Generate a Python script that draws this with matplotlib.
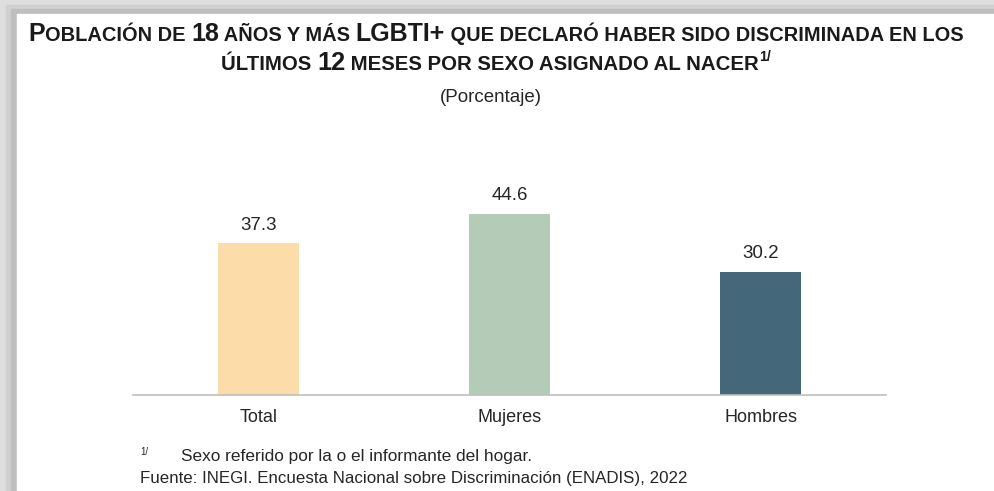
import matplotlib
matplotlib.use("Agg")
import matplotlib.pyplot as plt
from matplotlib.patches import Rectangle
import numpy as np

categories = ["Total", "Mujeres", "Hombres"]
values = [37.3, 44.6, 30.2]
colors = ["#FCDDA9", "#B4CCB7", "#44687A"]

plt.rcParams['font.family'] = ['Liberation Sans', 'DejaVu Sans']

W, H = 994, 491
fig = plt.figure(figsize=(W / 100, H / 100), dpi=100)

# background frame (gray shadow border)
bg = fig.add_axes([0, 0, 1, 1], zorder=-10)
bg.set_xlim(0, W); bg.set_ylim(H, 0); bg.axis("off")
bg.add_patch(Rectangle((0, 0), W, H, color="#DEDEDE"))
bg.add_patch(Rectangle((6, 5), W, H, color="#D0D0D0"))
bg.add_patch(Rectangle((11, 9), W, H, color="#BEBEBE"))
bg.add_patch(Rectangle((17, 14), W, H, color="white"))

ax = fig.add_axes([133 / W, 1 - 395 / H, 753 / W, 244 / H])
x = np.arange(len(categories))
ax.bar(x, values, width=0.32, color=colors)
ax.set_xlim(-0.5, 2.5)
ax.set_ylim(0, 60)
for s in ["top", "right", "left"]:
    ax.spines[s].set_visible(False)
ax.spines["bottom"].set_color("#BFBFBF")
ax.spines["bottom"].set_linewidth(1.2)
ax.set_yticks([])
ax.set_xticks(x)
ax.set_xticklabels(categories, fontsize=13, color="#262626")
ax.tick_params(axis="x", length=0, pad=10)
ax.patch.set_alpha(0)
for xi, v in zip(x, values):
    ax.annotate(f"{v:.1f}", (xi, v), xytext=(0, 7), textcoords="offset points",
                ha="center", va="bottom", fontsize=13.5, color="#262626")

# title with small caps simulation, fitted to target width
renderer = fig.canvas.get_renderer()
BIG, SMALL = 16.0, 12.8

def draw_line(pieces, baseline_y, target_w):
    texts = []
    for txt, size, sup in pieces:
        t = fig.text(0, 0, txt, fontsize=size, fontweight="bold", color="#1A1A1A",
                     va="baseline", ha="left")
        texts.append((t, size, sup))
    total = sum(t.get_window_extent(renderer).width for t, _, _ in texts)
    k = target_w / total
    for t, size, sup in texts:
        t.set_fontsize(size * k)
    widths = [t.get_window_extent(renderer).width for t, _, _ in texts]
    total = sum(widths)
    x0 = W / 2 - total / 2 - 1
    for (t, size, sup), w in zip(texts, widths):
        yoff = 9 if sup else 0
        t.set_position((x0 / W, 1 - (baseline_y - yoff) / H))
        x0 += w

draw_line([("P", BIG, False), ("OBLACIÓN DE ", SMALL, False), ("18", BIG, False),
           (" AÑOS Y MÁS ", SMALL, False), ("LGBTI+", BIG, False),
           (" QUE DECLARÓ HABER SIDO DISCRIMINADA EN LOS", SMALL, False)], 41, 931)
draw_line([("ÚLTIMOS ", SMALL, False), ("12", BIG, False),
           (" MESES POR SEXO ASIGNADO AL NACER", SMALL, False),
           ("1/", 9, True)], 70, 548)

fig.text(491 / W, 1 - 97 / H, "(Porcentaje)", fontsize=13.5, ha="center", va="center",
         color="#262626")

fig.text(140 / W, 1 - 452 / H, "1/", fontsize=7, ha="left", va="center", color="#262626")
fig.text(181 / W, 1 - 461 / H, "Sexo referido por la o el informante del hogar.",
         fontsize=12.4, ha="left", va="baseline", color="#262626")
fig.text(140 / W, 1 - 483 / H, "Fuente: INEGI. Encuesta Nacional sobre Discriminación (ENADIS), 2022",
         fontsize=12.2, ha="left", va="baseline", color="#262626")

fig.savefig("out.png", dpi=100)
